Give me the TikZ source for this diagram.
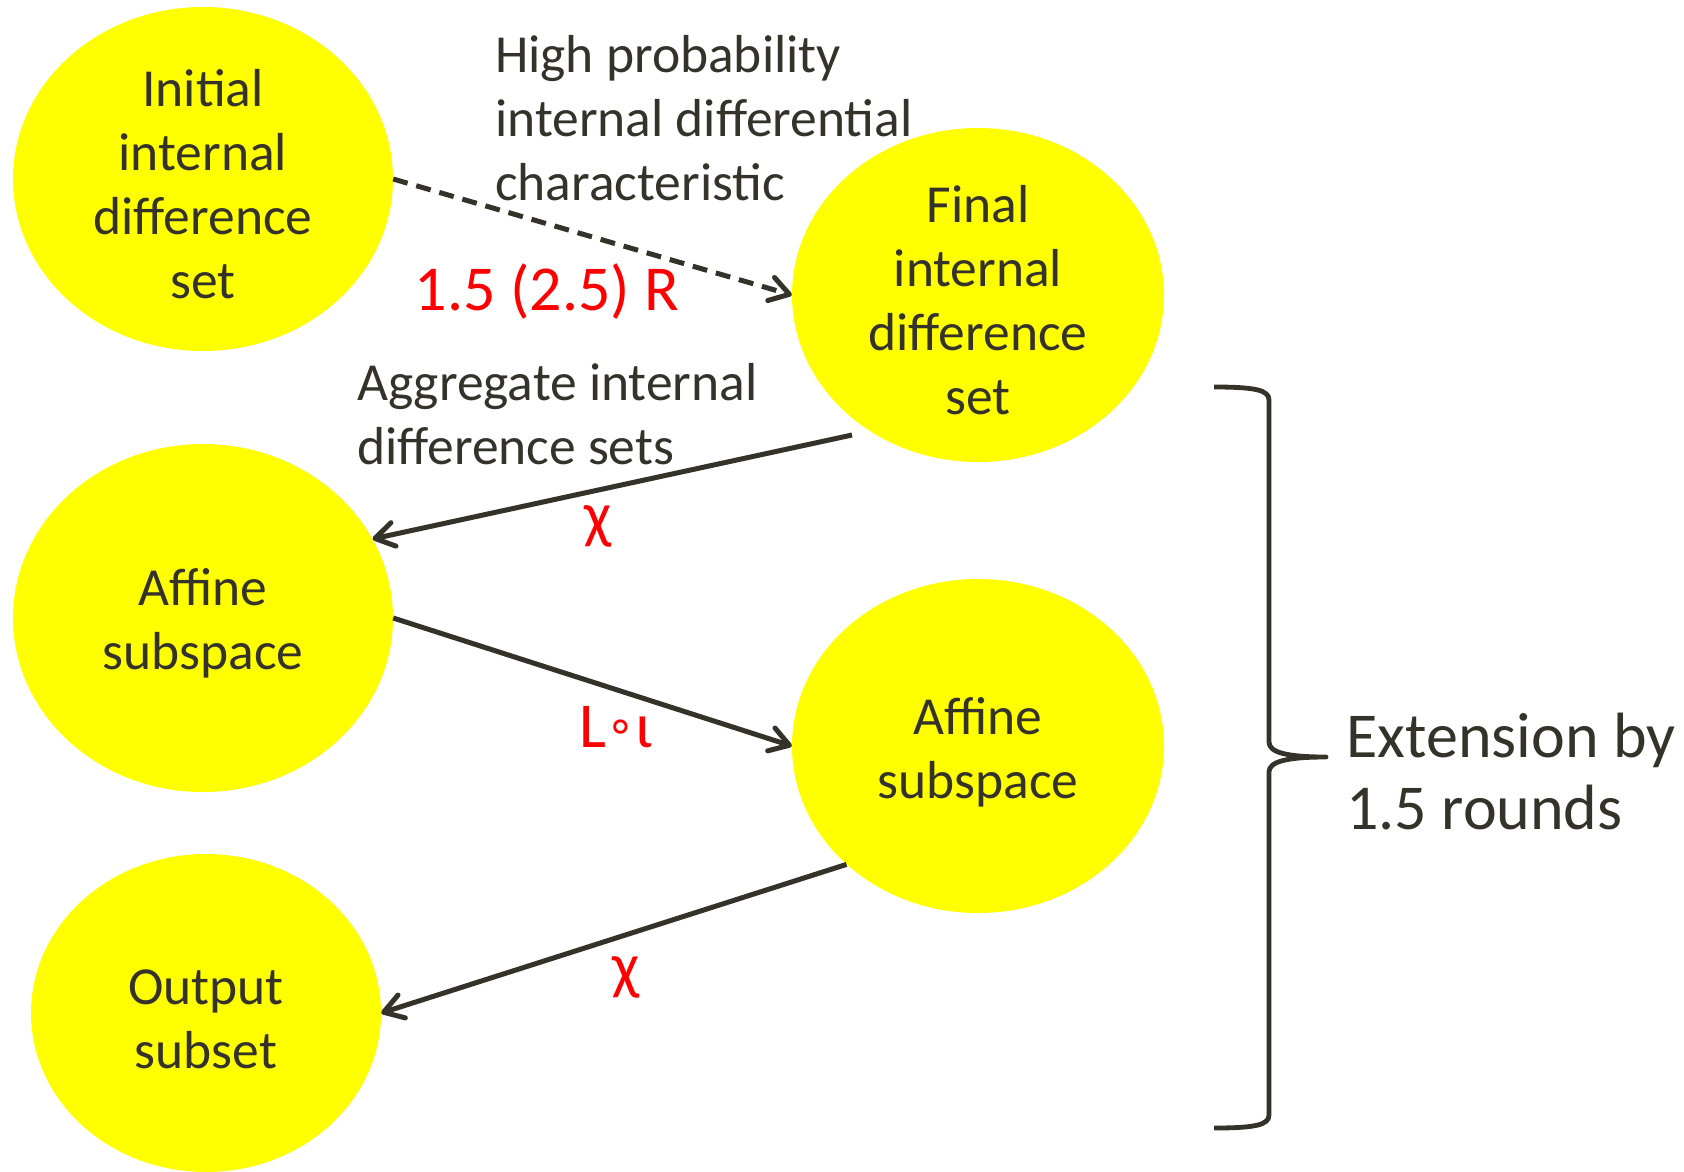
\documentclass[tikz,border=0pt]{standalone}
\usepackage{fontspec}
\setmainfont{Carlito}
\newfontfamily\symfont{DejaVu Sans}
\usetikzlibrary{shapes.geometric,arrows.meta,calc}
\definecolor{ink}{HTML}{35322A}
\definecolor{yel}{HTML}{FFFF00}
\pgfdeclareradialshading{bgfade}{\pgfpoint{0bp}{0bp}}{color(0bp)=(white); color(27bp)=(white); color(50bp)=(black!10)}
\begin{document}
\begin{tikzpicture}[x=1pt,y=-1pt,
  blob/.style={ellipse, fill=yel, draw=none, inner sep=0pt},
  txt/.style={text=ink, font=\fontsize{53.5}{64}\selectfont, align=center, inner sep=0pt},
  big/.style={font=\fontsize{64}{72}\selectfont, inner sep=0pt},
  conn/.style={draw=ink, line width=5pt, line cap=butt,
    -{Straight Barb[length=19pt,width=24pt,line cap=round,line join=round]}},
  bracestyle/.style={draw=ink, line width=4.8pt, line cap=butt, line join=round}
]
\path[use as bounding box] (0,0) rectangle (1684,1171);
\begin{scope}
  \clip (0,0) rectangle (1684,1171);
  \shade[shading=bgfade] (500,250) circle (1500pt);
\end{scope}

\node[blob, minimum width=380pt, minimum height=344pt] (init) at (203,179) {};
\node[blob, minimum width=372pt, minimum height=334pt] (final) at (978,295) {};
\node[blob, minimum width=380pt, minimum height=348pt] (affL) at (203,618) {};
\node[blob, minimum width=372pt, minimum height=334pt] (affR) at (978,746) {};
\node[blob, minimum width=350pt, minimum height=318pt] (out) at (206,1013) {};

\node[txt] (tInit) at (203,184) {Initial\\internal\\difference\\set};
\node[txt] (tFinal) at (978,300) {Final\\internal\\difference\\set};
\node[txt] (tAffL) at (203,623) {Affine\\subspace};
\node[txt] (tAffR) at (978,752) {Affine\\subspace};
\node[txt] (tOut) at (206,1019) {Output\\subset};

\node[txt, anchor=west, align=left] (hp) at (495,118) {High probability\\internal differential\\characteristic};
\node[txt, anchor=west, align=left] (agg) at (357,414) {Aggregate internal\\difference sets};

\node[big, text=red] (r15) at (547,292) {1.5 (2.5) R};
\node[big, text=red] (chi1) at (598,526) {χ};
\node[big, text=red] (li) at (616,727) {L\raisebox{6pt}{\symfont\fontsize{46}{46}\selectfont ∘}ι};
\node[big, text=red] (chi2) at (626,977) {χ};
\node[big, text=ink, anchor=west, align=left] (ext) at (1346,772) {Extension by\\1.5 rounds};

\draw[conn, dash pattern=on 15pt off 9pt] (init.east) -- (final.west);
\draw[conn] ($(final.center)+(-126,140)$) -- (affL.25);
\draw[conn] (affL.east) -- (affR.west);
\draw[conn] (affR.222) -- (out.east);

\coordinate (bt) at (1214,387);
\coordinate (bm) at (1326,757);
\coordinate (bb) at (1214,1128);
\draw[bracestyle] (bt) .. controls (1255,387) and (1269,390) .. (1269,400) -- (1269,742)
  .. controls (1269,752) and (1285,757) .. (bm)
  .. controls (1285,757) and (1269,762) .. (1269,772) -- (1269,1115)
  .. controls (1269,1125) and (1255,1128) .. (bb);
\end{tikzpicture}
\end{document}
